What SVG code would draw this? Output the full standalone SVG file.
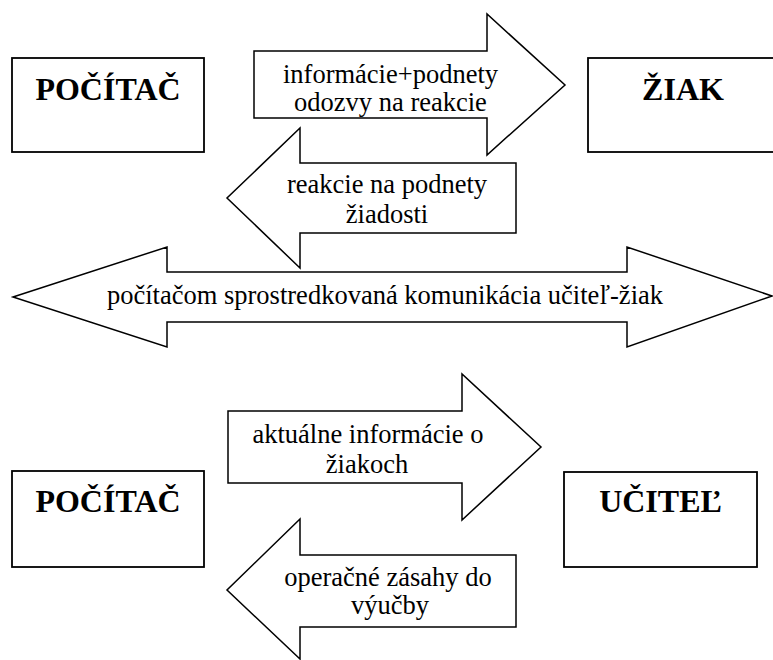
<svg xmlns="http://www.w3.org/2000/svg" width="773" height="660" viewBox="0 0 773 660" font-family="Liberation Serif, DejaVu Serif, serif">
<style>
  .box { fill: #ffffff; stroke: #000000; stroke-width: 1.8; }
  .arrow { fill: #ffffff; stroke: #000000; stroke-width: 1.5; stroke-linejoin: miter; }
  .title { font-size: 32px; font-weight: bold; fill: #000000; text-anchor: middle; }
  .label { font-size: 26.5px; fill: #000000; text-anchor: middle; }
</style>
<rect width="773" height="660" fill="#ffffff"/>
<g id="connectors" font-family="Liberation Serif, DejaVu Serif, serif">
  <g id="arrow-info">
    <polygon class="arrow" points="254,51 487,51 487,14 565,85 487,155 487,118 254,118"/>
    <text class="label" x="390.5" y="82.5" font-family="Liberation Serif, serif">informácie+podnety</text>
    <text class="label" x="390.5" y="111" font-family="Liberation Serif, serif">odozvy na reakcie</text>
  </g>
  <g id="arrow-reakcie">
    <polygon class="arrow" points="516,163 300,163 300,128 227,198 300,268 300,233 516,233"/>
    <text class="label" x="387" y="193" font-family="Liberation Serif, serif">reakcie na podnety</text>
    <text class="label" x="387" y="223" font-family="Liberation Serif, serif">žiadosti</text>
  </g>
  <g id="arrow-komunikacia">
    <polygon class="arrow" points="13,297 167,247 167,272 627,272 627,247 772,296 627,347 627,322 167,322 167,347"/>
    <text class="label" x="385" y="304" font-family="Liberation Serif, serif">počítačom sprostredkovaná komunikácia učiteľ-žiak</text>
  </g>
  <g id="arrow-aktualne">
    <polygon class="arrow" points="228,411 462,411 462,374 541,447 462,520 462,483 228,483"/>
    <text class="label" x="368" y="443" font-family="Liberation Serif, serif">aktuálne informácie o</text>
    <text class="label" x="367" y="473" font-family="Liberation Serif, serif">žiakoch</text>
  </g>
  <g id="arrow-operacne">
    <polygon class="arrow" points="516,555 300,555 300,519 227,590 300,659 300,627 516,627"/>
    <text class="label" x="388" y="586" font-family="Liberation Serif, serif">operačné zásahy do</text>
    <text class="label" x="390" y="614" font-family="Liberation Serif, serif">výučby</text>
  </g>
</g>
<g id="node-pocitac-top">
  <rect class="box" x="12" y="58" width="192" height="94"/>
  <text class="title" x="108" y="100" font-family="Liberation Serif, serif">POČÍTAČ</text>
</g>
<g id="node-ziak">
  <rect class="box" x="588" y="58" width="192" height="94"/>
  <text class="title" x="683" y="100" font-family="Liberation Serif, serif">ŽIAK</text>
</g>
<g id="node-pocitac-bottom">
  <rect class="box" x="12" y="471" width="192" height="96"/>
  <text class="title" x="108" y="512" font-family="Liberation Serif, serif">POČÍTAČ</text>
</g>
<g id="node-ucitel">
  <rect class="box" x="564" y="472" width="193" height="95"/>
  <text class="title" x="660.5" y="512" font-family="Liberation Serif, serif">UČITEĽ</text>
</g>
</svg>
